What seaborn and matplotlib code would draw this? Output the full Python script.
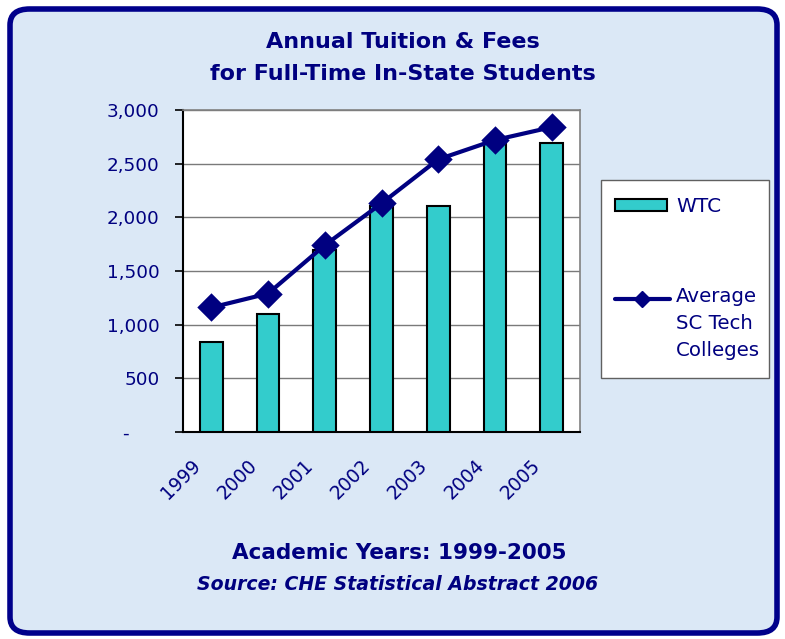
import matplotlib
matplotlib.use("Agg")
import matplotlib.pyplot as plt
import matplotlib.transforms as mtransforms
import seaborn as sns
import pandas as pd
from matplotlib.patches import FancyBboxPatch, Rectangle
from matplotlib.lines import Line2D
from matplotlib.ticker import FuncFormatter

years = ["1999", "2000", "2001", "2002", "2003", "2004", "2005"]
wtc = [840, 1100, 1700, 2110, 2110, 2690, 2690]
avg_sc = [1160, 1290, 1740, 2130, 2540, 2720, 2840]
yticks = [0, 500, 1000, 1500, 2000, 2500, 3000]

df = pd.DataFrame({"year": years, "WTC": wtc, "Average SC Tech Colleges": avg_sc})

NAVY = "#000080"
TEAL = "#33CCCC"

sns.set_theme(style="white")
plt.rcParams["font.family"] = ["DejaVu Sans"]

W, H = 785, 639
fig = plt.figure(figsize=(W / 100, H / 100), dpi=100, facecolor="white")

def fx(px):
    return px / W

def fy(py):
    return 1 - py / H

# rounded panel background
panel = FancyBboxPatch((fx(10), fy(633)), fx(W - 18), (H - 15) / H,
                       boxstyle="round,pad=0,rounding_size=0.025",
                       transform=fig.transFigure, facecolor="#dbe8f6",
                       edgecolor="#00008B", linewidth=4, zorder=-10)
fig.patches.append(panel)

ax = fig.add_axes([fx(183), fy(432), fx(580 - 183), (432 - 110) / H])
ax.set_facecolor("white")

sns.barplot(data=df, x="year", y="WTC", color=TEAL, edgecolor="black",
            linewidth=1.5, width=0.4, saturation=1, ax=ax, zorder=3)
sns.pointplot(data=df, x="year", y="Average SC Tech Colleges", color=NAVY,
              markers="D", markersize=12, linewidth=3, ax=ax, zorder=4)

ax.set_ylim(0, 3000)
ax.set_xlim(-0.5, len(years) - 0.5)
ax.set_yticks(yticks)
ax.yaxis.set_major_formatter(FuncFormatter(lambda v, p: "-     " if v == 0 else f"{int(v):,}"))
ax.grid(axis="y", color="#7a7a7a", linewidth=1, zorder=0)
ax.set_axisbelow(True)
ax.set_xlabel("")
ax.set_ylabel("")

# category ticks at boundaries (Excel style)
ax.set_xticks([i - 0.5 for i in range(len(years) + 1)], minor=True)
ax.tick_params(axis="x", which="minor", length=8, width=1.2, color="black", direction="inout")
ax.set_xticks(range(len(years)))
ax.set_xticklabels(years, rotation=45, ha="right", va="center", rotation_mode="anchor")
ax.tick_params(axis="x", which="major", length=0, pad=22, labelsize=13.5, labelcolor=NAVY)
shift = mtransforms.ScaledTranslation(-14 / 100, 0, fig.dpi_scale_trans)
for lab in ax.get_xticklabels():
    lab.set_transform(lab.get_transform() + shift)
ax.tick_params(axis="y", which="major", length=6, width=1.2, color="black",
               direction="out", left=True, labelsize=13.2, labelcolor=NAVY, pad=11)

for s in ["top", "right"]:
    ax.spines[s].set_color("#808080")
    ax.spines[s].set_linewidth(1.2)
for s in ["left", "bottom"]:
    ax.spines[s].set_color("black")
    ax.spines[s].set_linewidth(1.5)

# legend box (drawn in figure coords)
fig.patches.append(Rectangle((fx(601), fy(378)), fx(769 - 601), (378 - 180) / H,
                             transform=fig.transFigure, facecolor="white",
                             edgecolor="#606060", linewidth=1, zorder=5))
fig.patches.append(Rectangle((fx(615), fy(211)), fx(52), 12 / H,
                             transform=fig.transFigure, facecolor=TEAL,
                             edgecolor="black", linewidth=1.5, zorder=6))
fig.text(fx(676), fy(206), "WTC", ha="left", va="center", fontsize=14.5,
         color=NAVY, zorder=7)
fig.lines.append(Line2D([fx(615), fx(670)], [fy(299), fy(299)],
                        transform=fig.transFigure, color=NAVY, linewidth=3,
                        zorder=6))
fig.lines.append(Line2D([fx(642)], [fy(299)], transform=fig.transFigure,
                        color=NAVY, marker="D", markersize=8, zorder=7))
fig.text(fx(676), fy(287), "Average\nSC Tech\nColleges", ha="left", va="top",
         fontsize=14.2, color=NAVY, linespacing=1.55, zorder=7)

fig.text(fx(403), fy(42), "Annual Tuition & Fees", ha="center", va="center",
         fontsize=16, fontweight="bold", color=NAVY)
fig.text(fx(403), fy(74), "for Full-Time In-State Students", ha="center", va="center",
         fontsize=16, fontweight="bold", color=NAVY)
fig.text(fx(399), fy(553), "Academic Years: 1999-2005", ha="center", va="center",
         fontsize=15.5, fontweight="bold", color=NAVY)
fig.text(fx(398), fy(585), "Source: CHE Statistical Abstract 2006", ha="center", va="center",
         fontsize=13.6, fontweight="bold", fontstyle="italic", color=NAVY)

fig.savefig("out.png", dpi=100, facecolor="white")
